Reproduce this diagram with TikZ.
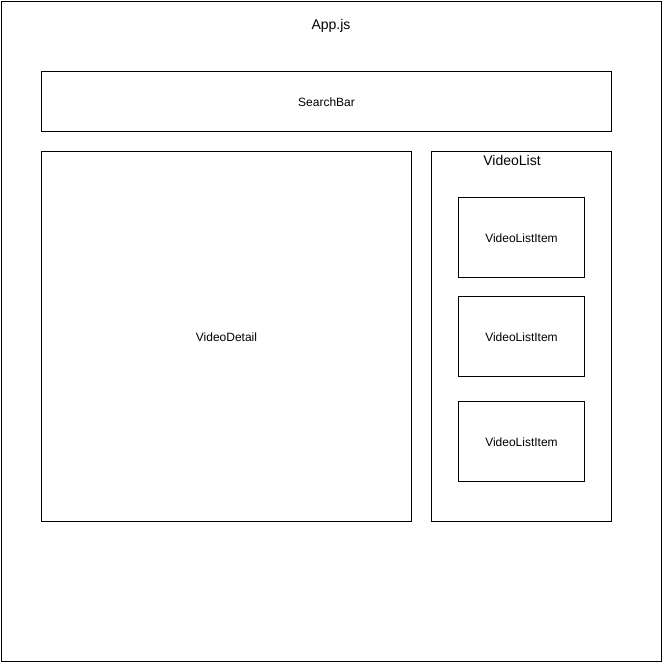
\documentclass[tikz,border=0pt]{standalone}
\usepackage{fontspec}
\setmainfont{Liberation Sans}
\begin{document}
\begin{tikzpicture}[x=1pt,y=-1pt,
  box/.style={draw=black,line width=1pt,fill=white},
  lbl/.style={font=\fontsize{12}{14}\selectfont,inner sep=0pt},
  big/.style={font=\fontsize{14}{16}\selectfont,inner sep=0pt}]
\useasboundingbox (0,0) rectangle (663,663);
\draw[box] (1.5,1.5) rectangle (661.5,661.5);
\node[big] (app) at (331,26) {App.js};
\draw[box] (41.5,71.5) rectangle (611.5,131.5);
\node[lbl] (search) at (326.5,102.5) {SearchBar};
\draw[box] (41.5,151.5) rectangle (411.5,521.5);
\node[lbl] (detail) at (226.5,337.5) {VideoDetail};
\draw[box] (431.5,151.5) rectangle (611.5,521.5);
\node[big] (list) at (512,160.5) {VideoList};
\draw[box] (458.5,197.5) rectangle (584.5,277.5);
\node[lbl] (item1) at (521.5,238.5) {VideoListItem};
\draw[box] (458.5,296.5) rectangle (584.5,376.5);
\node[lbl] (item2) at (521.5,337.5) {VideoListItem};
\draw[box] (458.5,401.5) rectangle (584.5,481.5);
\node[lbl] (item3) at (521.5,442.5) {VideoListItem};
\end{tikzpicture}
\end{document}
